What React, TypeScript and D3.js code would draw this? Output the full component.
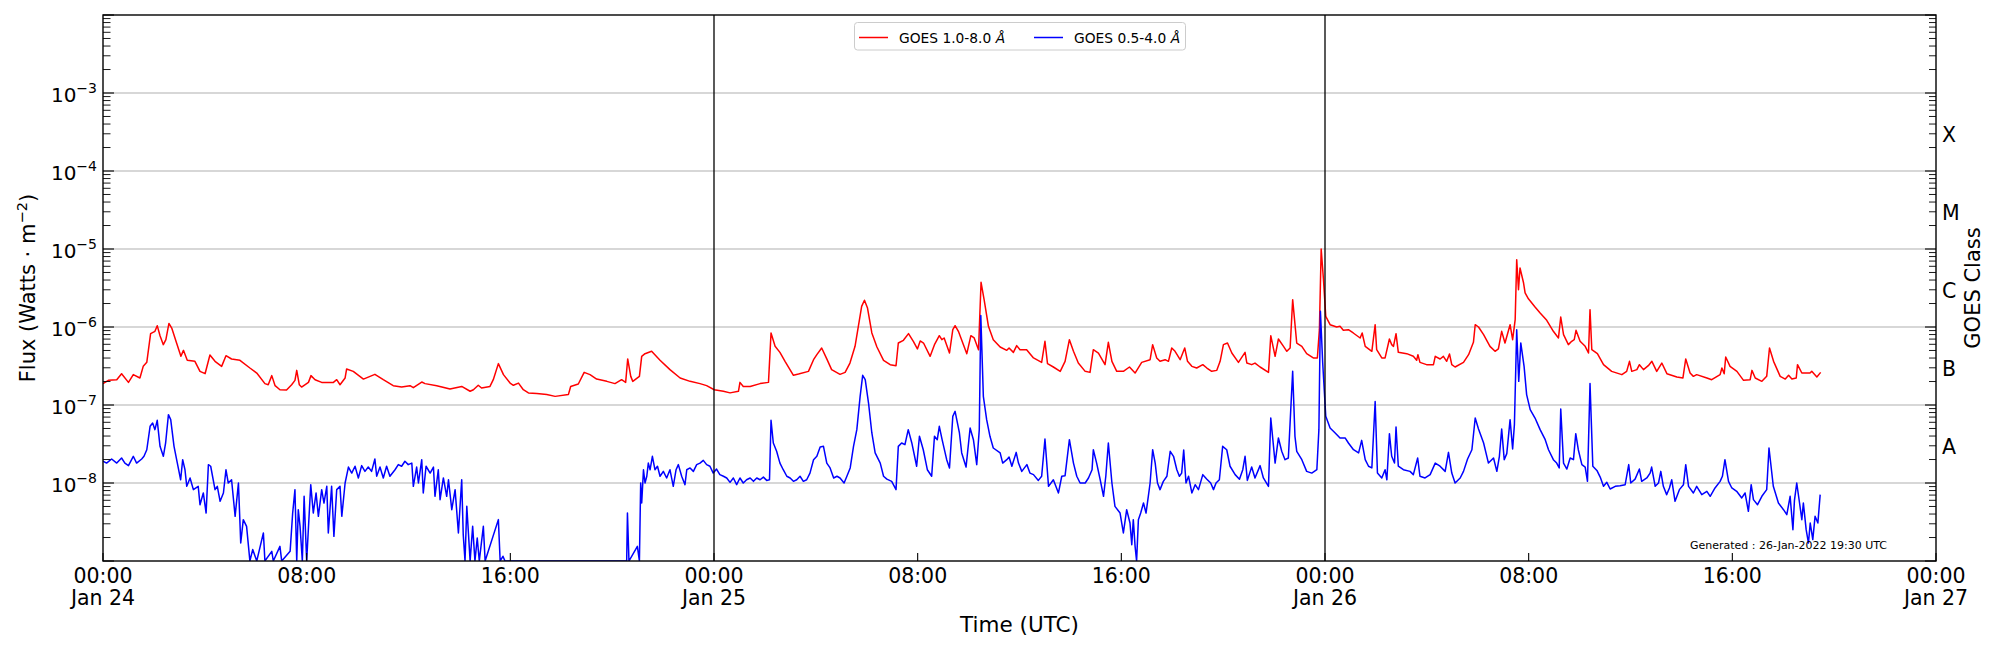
import React from 'react';
import * as d3 from 'd3';

// hours since 2022-01-24 00:00 UTC, flux in W m^-2
const xrsb: [number, number][] = [
  [0.00,1.88e-7],[0.21,2.07e-7],[0.54,2.11e-7],[0.73,2.52e-7],[1.00,1.95e-7],[1.19,2.45e-7],[1.45,2.22e-7],[1.58,3.13e-7],
  [1.72,3.52e-7],[1.87,8.22e-7],[2.04,8.8e-7],[2.13,1.04e-6],[2.24,7.74e-7],[2.37,5.94e-7],[2.47,6.88e-7],[2.59,1.11e-6],
  [2.70,9.7e-7],[2.89,6.23e-7],[3.06,4.21e-7],[3.16,5.02e-7],[3.31,3.74e-7],[3.61,3.63e-7],[3.81,2.70e-7],[4.01,2.52e-7],
  [4.20,4.38e-7],[4.40,3.63e-7],[4.66,3.13e-7],[4.83,4.29e-7],[5.05,3.89e-7],[5.38,3.74e-7],[5.77,2.98e-7],[6.04,2.57e-7],
  [6.36,1.88e-7],[6.49,1.82e-7],[6.63,2.38e-7],[6.76,1.77e-7],[6.95,1.57e-7],[7.21,1.56e-7],[7.41,1.82e-7],[7.54,2.07e-7],
  [7.61,2.78e-7],[7.71,1.82e-7],[7.80,1.70e-7],[8.07,1.95e-7],[8.17,2.38e-7],[8.33,2.11e-7],[8.59,1.95e-7],[9.05,1.95e-7],
  [9.18,2.11e-7],[9.31,1.82e-7],[9.51,2.22e-7],[9.57,2.90e-7],[9.83,2.70e-7],[10.23,2.15e-7],[10.68,2.47e-7],[11.01,2.11e-7],
  [11.40,1.77e-7],[11.73,1.70e-7],[12.06,1.77e-7],[12.19,1.67e-7],[12.52,1.97e-7],[12.65,1.88e-7],[13.11,1.77e-7],[13.63,1.60e-7],
  [14.09,1.73e-7],[14.42,1.50e-7],[14.55,1.57e-7],[14.74,1.79e-7],[14.87,1.65e-7],[15.20,1.73e-7],[15.33,2.11e-7],[15.53,3.39e-7],
  [15.73,2.45e-7],[15.99,1.91e-7],[16.12,1.79e-7],[16.32,1.91e-7],[16.51,1.57e-7],[16.71,1.43e-7],[17.04,1.40e-7],[17.43,1.36e-7],
  [17.76,1.29e-7],[18.28,1.36e-7],[18.37,1.73e-7],[18.67,1.86e-7],[18.90,2.62e-7],[19.13,2.45e-7],[19.39,2.15e-7],[19.79,2.01e-7],
  [20.11,1.88e-7],[20.37,2.11e-7],[20.53,1.95e-7],[20.61,3.89e-7],[20.73,2.33e-7],[20.81,2.01e-7],[21.07,2.33e-7],[21.16,4.21e-7],
  [21.29,4.55e-7],[21.55,4.88e-7],[21.88,3.74e-7],[22.27,2.84e-7],[22.67,2.22e-7],[23.06,2.01e-7],[23.45,1.88e-7],[23.71,1.77e-7],
  [24.01,1.57e-7],[24.37,1.50e-7],[24.63,1.43e-7],[24.96,1.50e-7],[25.02,1.95e-7],[25.15,1.73e-7],[25.42,1.73e-7],[25.81,1.88e-7],
  [26.14,1.95e-7],[26.24,8.38e-7],[26.40,5.65e-7],[26.59,4.73e-7],[26.79,3.63e-7],[27.12,2.40e-7],[27.32,2.49e-7],[27.71,2.70e-7],
  [27.91,3.81e-7],[28.04,4.42e-7],[28.23,5.38e-7],[28.43,3.9e-7],[28.62,2.84e-7],[28.95,2.47e-7],[29.15,2.62e-7],[29.34,3.45e-7],
  [29.54,5.65e-7],[29.67,1.02e-6],[29.80,1.84e-6],[29.91,2.20e-6],[30.03,1.75e-6],[30.20,8.38e-7],[30.40,5.54e-7],[30.66,3.74e-7],
  [30.92,3.29e-7],[31.15,3.19e-7],[31.24,6.23e-7],[31.44,6.75e-7],[31.64,8.22e-7],[31.83,6.55e-7],[31.99,5.23e-7],[32.10,6.62e-7],
  [32.23,6.23e-7],[32.49,4.21e-7],[32.66,5.94e-7],[32.85,7.74e-7],[32.95,6.88e-7],[33.04,7.23e-7],[33.25,4.64e-7],[33.38,9.24e-7],
  [33.47,1.04e-6],[33.60,8.8e-7],[33.93,4.55e-7],[34.09,7.74e-7],[34.22,7.23e-7],[34.39,5.12e-7],[34.49,3.74e-6],[34.61,2.24e-6],
  [34.78,1.02e-6],[34.97,6.88e-7],[35.24,5.54e-7],[35.50,5.02e-7],[35.59,5.38e-7],[35.76,4.73e-7],[35.89,5.77e-7],[36.02,5.12e-7],
  [36.28,5.12e-7],[36.55,4.01e-7],[36.87,3.52e-7],[37.00,6.55e-7],[37.10,3.39e-7],[37.33,3.07e-7],[37.60,2.70e-7],[37.79,3.63e-7],
  [37.96,6.88e-7],[38.12,4.88e-7],[38.31,3.45e-7],[38.58,2.70e-7],[38.77,2.62e-7],[38.90,5.12e-7],[39.10,4.64e-7],[39.36,3.29e-7],
  [39.49,6.36e-7],[39.63,3.63e-7],[39.82,2.70e-7],[40.08,2.70e-7],[40.32,3.07e-7],[40.54,2.57e-7],[40.80,3.52e-7],[41.13,3.81e-7],
  [41.23,5.94e-7],[41.39,4.01e-7],[41.52,3.63e-7],[41.72,3.81e-7],[41.85,3.63e-7],[41.98,5.38e-7],[42.11,4.88e-7],[42.31,3.81e-7],
  [42.49,5.38e-7],[42.60,3.63e-7],[42.77,3.13e-7],[42.96,2.98e-7],[43.20,3.29e-7],[43.36,2.98e-7],[43.55,2.70e-7],[43.75,2.78e-7],
  [43.88,3.63e-7],[44.01,5.94e-7],[44.17,6.23e-7],[44.34,4.64e-7],[44.60,3.52e-7],[44.86,4.73e-7],[44.93,3.45e-7],[45.12,3.29e-7],
  [45.25,3.45e-7],[45.45,3.07e-7],[45.78,2.62e-7],[45.87,7.74e-7],[46.04,4.21e-7],[46.17,7.02e-7],[46.37,5.65e-7],[46.50,4.88e-7],
  [46.63,5.38e-7],[46.73,2.24e-6],[46.89,6.23e-7],[47.09,5.65e-7],[47.28,4.55e-7],[47.54,4.01e-7],[47.70,4.01e-7],[47.78,9.24e-7],
  [47.85,1.0e-5],[47.94,4.05e-6],[48.03,1.37e-6],[48.20,1.07e-6],[48.46,1.0e-6],[48.59,1.02e-6],[48.72,9.06e-7],[48.92,9.24e-7],
  [49.11,8.38e-7],[49.38,7.23e-7],[49.46,8.38e-7],[49.58,5.65e-7],[49.84,4.88e-7],[49.97,1.07e-6],[50.03,5.12e-7],[50.23,4.01e-7],
  [50.36,4.01e-7],[50.53,7.02e-7],[50.62,5.94e-7],[50.69,5.65e-7],[50.79,8.22e-7],[50.88,4.73e-7],[51.21,4.55e-7],[51.47,4.21e-7],
  [51.60,3.74e-7],[51.65,4.42e-7],[51.73,3.52e-7],[51.99,3.29e-7],[52.26,3.29e-7],[52.33,4.21e-7],[52.52,3.89e-7],[52.65,4.21e-7],
  [52.78,3.63e-7],[52.89,4.51e-7],[52.98,3.29e-7],[53.11,3.07e-7],[53.44,3.52e-7],[53.64,4.42e-7],[53.83,6.36e-7],[53.90,1.07e-6],
  [54.03,1.0e-6],[54.23,7.97e-7],[54.48,5.65e-7],[54.68,4.88e-7],[54.81,5.23e-7],[54.94,8.8e-7],[55.07,6.23e-7],[55.27,1.07e-6],
  [55.37,6.88e-7],[55.47,1.24e-6],[55.53,7.30e-6],[55.60,3.01e-6],[55.66,5.70e-6],[55.80,3.66e-6],[55.86,2.73e-6],[55.99,2.3e-6],
  [56.25,1.80e-6],[56.45,1.51e-6],[56.71,1.22e-6],[56.97,8.8e-7],[57.17,7.23e-7],[57.26,1.34e-6],[57.37,7.97e-7],[57.56,5.94e-7],
  [57.69,6.55e-7],[57.79,6.88e-7],[57.86,9.06e-7],[58.02,6.55e-7],[58.22,5.65e-7],[58.35,4.64e-7],[58.41,1.67e-6],[58.48,5.12e-7],
  [58.70,4.55e-7],[58.94,3.29e-7],[59.26,2.70e-7],[59.66,2.45e-7],[59.85,2.70e-7],[59.96,3.63e-7],[60.05,2.70e-7],[60.25,2.84e-7],
  [60.35,3.29e-7],[60.51,2.84e-7],[60.70,3.19e-7],[60.84,3.63e-7],[61.03,2.70e-7],[61.23,3.45e-7],[61.43,2.52e-7],[61.82,2.29e-7],
  [62.06,2.22e-7],[62.17,3.89e-7],[62.34,2.57e-7],[62.47,2.33e-7],[62.60,2.45e-7],[63.00,2.22e-7],[63.19,2.11e-7],[63.52,2.45e-7],
  [63.59,2.98e-7],[63.68,2.52e-7],[63.74,4.13e-7],[63.91,3.13e-7],[64.18,2.70e-7],[64.44,2.07e-7],[64.70,2.11e-7],[64.77,2.78e-7],
  [64.90,2.22e-7],[65.16,2.01e-7],[65.35,2.33e-7],[65.46,5.38e-7],[65.62,3.63e-7],[65.88,2.33e-7],[66.08,2.15e-7],[66.21,2.40e-7],
  [66.34,2.15e-7],[66.51,2.22e-7],[66.56,3.29e-7],[66.73,2.57e-7],[67.05,2.57e-7],[67.12,2.70e-7],[67.32,2.29e-7],[67.47,2.62e-7],
];

const xrsa: [number, number][] = [
  [0.00,1.90e-8],[0.14,1.80e-8],[0.34,2.03e-8],[0.54,1.80e-8],[0.73,2.09e-8],[0.86,1.80e-8],[1.00,1.67e-8],[1.19,2.20e-8],
  [1.32,1.80e-8],[1.52,2.03e-8],[1.61,2.20e-8],[1.72,2.67e-8],[1.85,5.33e-8],[1.95,5.88e-8],[2.04,4.83e-8],[2.13,6.36e-8],
  [2.24,2.95e-8],[2.37,2.20e-8],[2.46,3.26e-8],[2.57,7.52e-8],[2.66,6.49e-8],[2.79,2.95e-8],[2.92,1.80e-8],[3.05,1.10e-8],
  [3.13,1.99e-8],[3.22,1.48e-8],[3.29,9.06e-9],[3.42,1.16e-8],[3.55,8.22e-9],[3.74,9.06e-9],[3.81,5.27e-9],[3.94,7.45e-9],
  [4.05,4.12e-9],[4.14,1.72e-8],[4.23,1.64e-8],[4.40,8.22e-9],[4.49,9.06e-9],[4.60,5.82e-9],[4.73,7.45e-9],[4.83,1.48e-8],
  [4.92,1.0e-8],[5.05,1.10e-8],[5.19,3.74e-9],[5.32,1.0e-8],[5.41,1.70e-9],[5.51,3.39e-9],[5.64,2.78e-9],[5.77,1e-9],
  [5.88,1.40e-9],[6.04,1e-9],[6.30,2.29e-9],[6.36,1e-9],[6.63,1.33e-9],[6.69,1e-9],[6.95,1.54e-9],[7.02,1e-9],
  [7.35,1.33e-9],[7.45,4.12e-9],[7.54,8.22e-9],[7.61,1e-9],[7.67,4.55e-9],[7.74,2.78e-9],[7.83,1e-9],[7.90,6.75e-9],
  [8.00,1e-9],[8.16,9.52e-9],[8.26,4.12e-9],[8.37,7.45e-9],[8.46,3.74e-9],[8.59,8.22e-9],[8.68,5.54e-9],[8.79,9.06e-9],
  [8.85,2.29e-9],[8.98,9.06e-9],[9.07,2.07e-9],[9.18,8.22e-9],[9.31,9.06e-9],[9.38,3.74e-9],[9.51,1.0e-8],[9.64,1.60e-8],
  [9.77,1.34e-8],[9.90,1.64e-8],[10.03,1.16e-8],[10.16,1.67e-8],[10.29,1.41e-8],[10.42,1.60e-8],[10.55,1.41e-8],[10.68,2.03e-8],
  [10.75,1.22e-8],[10.88,1.60e-8],[11.01,1.16e-8],[11.14,1.64e-8],[11.27,1.22e-8],[11.47,1.48e-8],[11.60,1.72e-8],[11.73,1.64e-8],
  [11.86,1.90e-8],[11.99,1.72e-8],[12.13,1.80e-8],[12.19,9.06e-9],[12.32,1.60e-8],[12.39,1.0e-8],[12.52,1.99e-8],[12.58,7.45e-9],
  [12.69,1.64e-8],[12.85,1.34e-8],[12.98,1.60e-8],[13.04,6.75e-9],[13.17,1.48e-8],[13.24,6.12e-9],[13.37,1.16e-8],[13.50,6.75e-9],
  [13.57,1.10e-8],[13.70,4.55e-9],[13.83,8.22e-9],[13.96,2.29e-9],[14.09,1.10e-8],[14.15,2.18e-9],[14.22,1e-9],[14.29,5.02e-9],
  [14.42,1e-9],[14.52,2.78e-9],[14.61,1e-9],[14.70,1.97e-9],[14.78,1e-9],[14.94,2.78e-9],[15.01,1e-9],[15.53,3.39e-9],
  [15.60,1e-9],[15.71,1.15e-9],[15.79,1e-9],[20.57,1e-9],[20.60,4.12e-9],[20.66,1e-9],[20.99,1.54e-9],[21.07,1e-9],
  [21.12,1.0e-8],[21.16,5.54e-9],[21.23,1.48e-8],[21.29,1.0e-8],[21.36,1.22e-8],[21.42,1.80e-8],[21.49,1.48e-8],[21.58,2.20e-8],
  [21.68,1.48e-8],[21.78,1.64e-8],[21.88,1.22e-8],[22.01,1.41e-8],[22.14,1.16e-8],[22.27,1.48e-8],[22.40,9.06e-9],[22.51,1.48e-8],
  [22.60,1.72e-8],[22.73,1.22e-8],[22.86,9.52e-9],[22.93,1.48e-8],[23.06,1.56e-8],[23.19,1.41e-8],[23.32,1.72e-8],[23.45,1.80e-8],
  [23.58,1.95e-8],[23.71,1.72e-8],[23.84,1.64e-8],[23.97,1.34e-8],[24.10,1.51e-8],[24.23,1.28e-8],[24.37,1.22e-8],[24.50,1.16e-8],
  [24.63,1.02e-8],[24.76,1.16e-8],[24.89,9.52e-9],[25.02,1.16e-8],[25.15,1.0e-8],[25.28,1.10e-8],[25.42,1.16e-8],[25.55,1.05e-8],
  [25.68,1.16e-8],[25.81,1.10e-8],[25.94,1.19e-8],[26.07,1.08e-8],[26.18,1.10e-8],[26.24,6.36e-8],[26.33,3.26e-8],[26.46,2.55e-8],
  [26.59,1.80e-8],[26.72,1.48e-8],[26.86,1.22e-8],[26.99,1.16e-8],[27.12,1.05e-8],[27.25,1.10e-8],[27.38,1.22e-8],[27.51,1.05e-8],
  [27.64,1.10e-8],[27.77,1.34e-8],[27.91,1.99e-8],[28.04,2.20e-8],[28.17,2.90e-8],[28.30,2.95e-8],[28.43,1.80e-8],[28.56,1.56e-8],
  [28.70,1.16e-8],[28.83,1.22e-8],[28.95,1.16e-8],[29.11,1.0e-8],[29.22,1.22e-8],[29.35,1.56e-8],[29.48,2.95e-8],[29.61,4.83e-8],
  [29.74,1.29e-7],[29.84,2.40e-7],[29.94,2.11e-7],[30.07,1.06e-7],[30.20,4.38e-8],[30.33,2.43e-8],[30.53,1.80e-8],[30.66,1.22e-8],
  [30.79,1.12e-8],[30.98,1.05e-8],[31.15,8.22e-9],[31.24,2.95e-8],[31.37,3.26e-8],[31.50,3.10e-8],[31.63,4.83e-8],[31.77,3.26e-8],
  [31.96,1.64e-8],[32.07,3.97e-8],[32.22,2.67e-8],[32.38,1.48e-8],[32.55,1.22e-8],[32.66,3.97e-8],[32.77,3.59e-8],[32.85,5.33e-8],
  [32.96,3.59e-8],[33.14,1.99e-8],[33.25,1.56e-8],[33.38,7.16e-8],[33.47,8.30e-8],[33.64,4.38e-8],[33.73,2.43e-8],[33.90,1.60e-8],
  [34.06,5.07e-8],[34.19,3.59e-8],[34.32,1.72e-8],[34.42,4.83e-8],[34.48,1.40e-6],[34.58,1.29e-7],[34.71,6.49e-8],[34.84,3.97e-8],
  [34.97,2.81e-8],[35.24,2.43e-8],[35.34,1.80e-8],[35.50,1.99e-8],[35.59,2.15e-8],[35.70,1.64e-8],[35.87,2.47e-8],[35.96,1.80e-8],
  [36.09,1.41e-8],[36.29,1.72e-8],[36.41,1.34e-8],[36.55,1.28e-8],[36.74,1.08e-8],[36.87,1.22e-8],[37.00,3.66e-8],[37.14,9.06e-9],
  [37.33,1.10e-8],[37.53,7.45e-9],[37.66,1.22e-8],[37.79,1.24e-8],[37.96,3.59e-8],[38.12,1.80e-8],[38.25,1.22e-8],[38.38,1.0e-8],
  [38.58,1.0e-8],[38.71,1.16e-8],[38.85,1.48e-8],[38.90,2.67e-8],[39.03,1.80e-8],[39.17,1.10e-8],[39.30,6.75e-9],[39.39,1.22e-8],
  [39.49,3.26e-8],[39.63,1.0e-8],[39.75,5.02e-9],[39.95,4.12e-9],[40.08,2.29e-9],[40.21,4.55e-9],[40.34,3.07e-9],[40.41,1.62e-9],
  [40.47,3.39e-9],[40.54,1.54e-9],[40.60,1e-9],[40.67,3.39e-9],[40.76,4.12e-9],[40.87,5.54e-9],[40.97,4.12e-9],[41.06,6.75e-9],
  [41.13,1.0e-8],[41.23,2.67e-8],[41.33,1.80e-8],[41.42,1.0e-8],[41.52,8.22e-9],[41.65,1.05e-8],[41.79,1.22e-8],[41.92,2.55e-8],
  [42.05,2.20e-8],[42.18,1.48e-8],[42.28,1.22e-8],[42.37,1.34e-8],[42.45,2.65e-8],[42.54,1.0e-8],[42.64,1.22e-8],[42.77,7.45e-9],
  [42.90,9.52e-9],[43.03,8.22e-9],[43.20,1.28e-8],[43.36,1.12e-8],[43.51,1.0e-8],[43.62,8.22e-9],[43.72,1.0e-8],[43.85,1.10e-8],
  [43.98,2.95e-8],[44.14,2.67e-8],[44.27,1.64e-8],[44.47,1.28e-8],[44.64,1.12e-8],[44.77,1.48e-8],[44.86,2.20e-8],[44.95,1.08e-8],
  [45.12,1.60e-8],[45.25,1.16e-8],[45.45,1.67e-8],[45.58,1.16e-8],[45.78,9.06e-9],[45.87,6.81e-8],[46.04,1.80e-8],[46.17,3.78e-8],
  [46.30,2.55e-8],[46.43,1.99e-8],[46.56,2.09e-8],[46.73,2.70e-7],[46.82,3.97e-8],[46.89,2.55e-8],[47.09,1.99e-8],[47.28,1.41e-8],
  [47.48,1.34e-8],[47.68,1.48e-8],[47.76,4.83e-8],[47.82,1.59e-6],[47.91,3.45e-7],[48.03,7.16e-8],[48.20,5.07e-8],[48.40,4.38e-8],
  [48.59,3.78e-8],[48.79,3.78e-8],[48.92,3.26e-8],[49.12,2.67e-8],[49.32,2.43e-8],[49.44,3.52e-8],[49.58,1.99e-8],[49.71,1.64e-8],
  [49.84,1.56e-8],[49.97,1.11e-7],[50.06,1.34e-8],[50.23,1.16e-8],[50.36,1.48e-8],[50.43,1.10e-8],[50.53,4.29e-8],[50.62,2.20e-8],
  [50.73,1.80e-8],[50.79,5.23e-8],[50.88,1.64e-8],[51.08,1.48e-8],[51.34,1.41e-8],[51.47,1.28e-8],[51.64,2.09e-8],[51.73,1.22e-8],
  [51.93,1.16e-8],[52.13,1.28e-8],[52.33,1.80e-8],[52.52,1.64e-8],[52.72,1.41e-8],[52.85,2.47e-8],[52.98,1.34e-8],[53.11,1.0e-8],
  [53.31,1.16e-8],[53.44,1.41e-8],[53.60,2.03e-8],[53.77,2.67e-8],[53.90,6.81e-8],[54.03,4.92e-8],[54.23,3.26e-8],[54.42,1.80e-8],
  [54.62,2.09e-8],[54.75,1.41e-8],[54.85,2.20e-8],[54.94,4.92e-8],[55.04,1.99e-8],[55.14,2.38e-8],[55.27,6.49e-8],[55.37,2.73e-8],
  [55.44,5.60e-8],[55.53,9.24e-7],[55.61,2.01e-7],[55.69,6.24e-7],[55.82,3.13e-7],[55.92,1.36e-7],[56.06,8.71e-8],[56.25,6.81e-8],
  [56.45,4.83e-8],[56.65,3.59e-8],[56.78,2.67e-8],[56.97,1.99e-8],[57.10,1.80e-8],[57.20,1.56e-8],[57.26,8.89e-8],[57.37,1.80e-8],
  [57.50,1.51e-8],[57.63,2.09e-8],[57.76,1.99e-8],[57.85,4.29e-8],[57.95,2.67e-8],[58.09,1.72e-8],[58.22,1.60e-8],[58.31,1.05e-8],
  [58.41,1.88e-7],[58.52,1.64e-8],[58.68,1.45e-8],[58.81,1.19e-8],[58.94,9.06e-9],[59.07,1.02e-8],[59.20,8.38e-9],[59.40,9.06e-9],
  [59.59,9.24e-9],[59.79,9.52e-9],[59.93,1.72e-8],[60.01,1.0e-8],[60.18,1.12e-8],[60.35,1.51e-8],[60.44,1.05e-8],[60.64,1.16e-8],
  [60.77,1.34e-8],[60.83,1.60e-8],[60.97,9.06e-9],[61.10,1.0e-8],[61.19,1.41e-8],[61.29,9.06e-9],[61.42,7.09e-9],[61.53,8.63e-9],
  [61.62,1.10e-8],[61.75,5.82e-9],[61.92,8.22e-9],[62.08,9.52e-9],[62.17,1.72e-8],[62.28,9.06e-9],[62.47,7.45e-9],[62.60,9.06e-9],
  [62.80,7.09e-9],[63.00,7.82e-9],[63.13,6.75e-9],[63.32,8.63e-9],[63.52,1.05e-8],[63.61,1.22e-8],[63.71,1.99e-8],[63.85,1.05e-8],
  [63.98,8.63e-9],[64.17,7.82e-9],[64.37,6.43e-9],[64.50,7.45e-9],[64.63,4.33e-9],[64.74,9.52e-9],[64.83,6.12e-9],[64.99,5.27e-9],
  [65.16,6.75e-9],[65.35,8.22e-9],[65.44,2.81e-8],[65.61,9.06e-9],[65.81,5.54e-9],[66.01,4.55e-9],[66.14,3.93e-9],[66.27,6.75e-9],
  [66.38,2.52e-9],[66.44,6.00e-9],[66.53,1.0e-8],[66.64,5.54e-9],[66.73,3.39e-9],[66.79,5.54e-9],[66.90,2.52e-9],[66.99,1.70e-9],
  [67.06,3.07e-9],[67.16,1.88e-9],[67.25,3.74e-9],[67.36,3.07e-9],[67.45,7.09e-9],
];

const yTickExponents = [-8, -7, -6, -5, -4, -3];
const xTickHours = [0, 8, 16, 24, 32, 40, 48, 56, 64, 72];
const goesClasses = ['A', 'B', 'C', 'M', 'X'];
const goesClassLevels = [10 ** -7.5, 10 ** -6.5, 10 ** -5.5, 10 ** -4.5, 10 ** -3.5];
const dayLineHours = [24, 48];
const seriesNames = ['GOES 1.0-8.0 ', 'GOES 0.5-4.0 '];
const generatedText = 'Generated : 26-Jan-2022 19:30 UTC';

const FONT = 'DejaVu Sans';
const L = 103, R = 1936, T = 15, B = 561;
const t0 = Date.UTC(2022, 0, 24);
const toDate = (h: number) => new Date(t0 + h * 3600e3);

export default function App() {
  const x = d3.scaleUtc().domain([toDate(0), toDate(72)]).range([L, R]);
  const y = d3.scaleLog().domain([1e-9, 1e-2]).range([B, T]);
  const line = d3.line<[number, number]>()
    .x(d => x(toDate(d[0])))
    .y(d => y(d[1]));

  const minor: number[] = [];
  for (let k = -9; k <= -3; k++) for (let m = 2; m <= 9; m++) minor.push(m * 10 ** k);
  const majors = d3.range(-9, -1).map(e => 10 ** e);

  const fmtTime = d3.utcFormat('%H:%M');
  const fmtDay = d3.utcFormat('%b %d');

  return (
    <svg width={2000} height={650} style={{ position: 'absolute', left: 0, top: 0, background: '#fff' }}
      fontFamily={FONT}>
      <defs>
        <clipPath id="plotclip"><rect x={L} y={T} width={R - L} height={B - T} /></clipPath>
      </defs>
      <rect x={0} y={0} width={2000} height={650} fill="#fff" />
      {yTickExponents.map(e => (
        <line key={'g' + e} x1={L} x2={R} y1={y(10 ** e)} y2={y(10 ** e)} stroke="#b0b0b0" strokeWidth={1.1} />
      ))}
      <g clipPath="url(#plotclip)">
        <path d={line(xrsb) || ''} fill="none" stroke="#ff0000" strokeWidth={1.5} strokeLinejoin="round" />
        <path d={line(xrsa) || ''} fill="none" stroke="#0000ff" strokeWidth={1.5} strokeLinejoin="round" />
      </g>
      {dayLineHours.map(h => (
        <line key={'d' + h} x1={x(toDate(h))} x2={x(toDate(h))} y1={T} y2={B} stroke="#000" strokeWidth={1.3} />
      ))}
      {majors.map((v, i) => (
        <g key={'mj' + i}>
          <line x1={L} x2={L + 11} y1={y(v)} y2={y(v)} stroke="#000" strokeWidth={1.1} />
          <line x1={R} x2={R - 11} y1={y(v)} y2={y(v)} stroke="#000" strokeWidth={1.1} />
        </g>
      ))}
      {minor.map((v, i) => (
        <g key={'mn' + i}>
          <line x1={L} x2={L + 7.5} y1={y(v)} y2={y(v)} stroke="#000" strokeWidth={0.9} />
          <line x1={R} x2={R - 7} y1={y(v)} y2={y(v)} stroke="#000" strokeWidth={0.9} />
        </g>
      ))}
      {yTickExponents.map(e => (
        <text key={'yl' + e} x={97} y={y(10 ** e) + 8.5} textAnchor="end" fontSize={20} fill="#000">
          10<tspan fontSize={14} dy={-9}>{'\u2212' + Math.abs(e)}</tspan>
        </text>
      ))}
      {xTickHours.map(h => {
        const xp = x(toDate(h));
        const d = toDate(h);
        return (
          <g key={'xt' + h}>
            <line x1={xp} x2={xp} y1={B} y2={B - 8} stroke="#000" strokeWidth={1.1} />
            <text x={xp} y={583} textAnchor="middle" fontSize={20.5}>{fmtTime(d)}</text>
            {d.getUTCHours() === 0 && (
              <text x={xp} y={605} textAnchor="middle" fontSize={20.5}>{fmtDay(d)}</text>
            )}
          </g>
        );
      })}
      {goesClasses.map((c, i) => (
        <text key={c} x={1942} y={y(goesClassLevels[i]) + 9.5} fontSize={20.5}>{c}</text>
      ))}
      <rect x={L} y={T} width={R - L} height={B - T} fill="none" stroke="#000" strokeWidth={1.4} />
      <text transform={`translate(35,${(T + B) / 2}) rotate(-90)`} textAnchor="middle" fontSize={21}>
        Flux (Watts · m<tspan fontSize={14.7} dy={-8}>−2</tspan><tspan dy={8}>)</tspan>
      </text>
      <text transform={`translate(1980,${(T + B) / 2}) rotate(-90)`} textAnchor="middle" fontSize={21}>GOES Class</text>
      <text x={(L + R) / 2} y={632} textAnchor="middle" fontSize={21.5}>Time (UTC)</text>
      <text x={1690} y={549} fontSize={11}>{generatedText}</text>
      <g>
        <rect x={854.5} y={22.5} width={331} height={27.5} rx={3} fill="#fff" fillOpacity={0.8} stroke="#cccccc" strokeWidth={1} />
        <line x1={859} x2={888} y1={37.5} y2={37.5} stroke="#ff0000" strokeWidth={1.5} />
        <text x={899} y={42.5} fontSize={13.8}>{seriesNames[0]}<tspan fontStyle="italic">Å</tspan></text>
        <line x1={1034} x2={1063} y1={37.5} y2={37.5} stroke="#0000ff" strokeWidth={1.5} />
        <text x={1074} y={42.5} fontSize={13.8}>{seriesNames[1]}<tspan fontStyle="italic">Å</tspan></text>
      </g>
    </svg>
  );
}
